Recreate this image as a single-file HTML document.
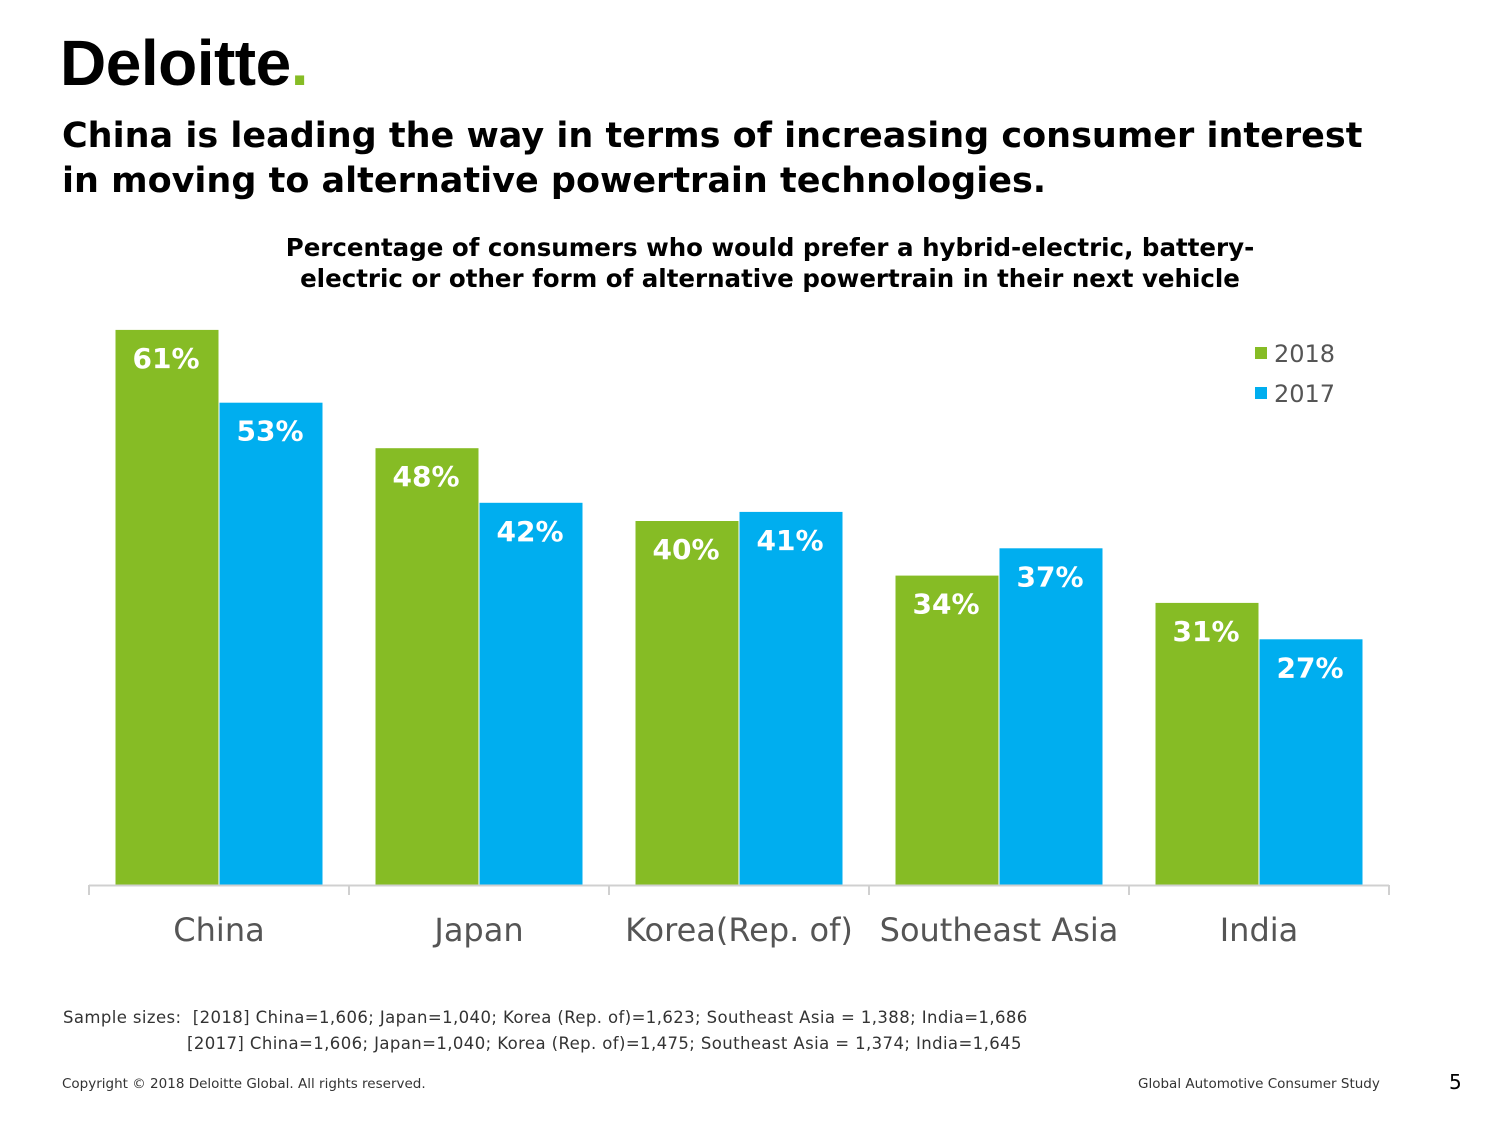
<!DOCTYPE html>
<html><head><meta charset="utf-8">
<style>
body{margin:0;background:#fff;font-family:"DejaVu Sans","Liberation Sans",sans-serif;}
#page{position:relative;width:1500px;height:1125px;overflow:hidden;}
.abs{position:absolute;white-space:nowrap;}
</style></head>
<body>
<div id="page">
<div class="abs" style="left:60px;top:26px;font-family:'Liberation Sans',sans-serif;font-weight:bold;font-size:64px;letter-spacing:-0.5px;color:#000;">Deloitte<span style="color:#86bc25">.</span></div>
<div class="abs" style="left:62px;top:114px;font-weight:bold;font-size:35px;line-height:45px;color:#000;">China is leading the way in terms of increasing consumer interest<br>in moving to alternative powertrain technologies.</div>
<div class="abs" style="left:270px;width:1000px;top:232px;text-align:center;font-weight:bold;font-size:24.5px;line-height:31px;color:#000;white-space:normal;">Percentage of consumers who would prefer a hybrid-electric, battery-<br>electric or other form of alternative powertrain in their next vehicle</div>
<svg id="chart" class="abs" style="left:0;top:0" width="1500" height="1000"></svg>
<div class="abs" style="left:63px;top:1005px;font-size:16.5px;letter-spacing:0.4px;line-height:26px;color:#333;">Sample sizes:&nbsp; [2018] China=1,606; Japan=1,040; Korea (Rep. of)=1,623; Southeast Asia = 1,388; India=1,686<br><span style="padding-left:124px">[2017] China=1,606; Japan=1,040; Korea (Rep. of)=1,475; Southeast Asia = 1,374; India=1,645</span></div>
<div class="abs" style="left:62px;top:1076px;font-size:13.5px;color:#333;">Copyright © 2018 Deloitte Global. All rights reserved.</div>
<div class="abs" style="left:1138px;top:1076px;font-size:13.5px;color:#333;">Global Automotive Consumer Study</div>
<div class="abs" style="left:1449px;top:1070px;font-size:20px;color:#000;">5</div>
</div>
<script>
const categories=["China","Japan","Korea(Rep. of)","Southeast Asia","India"];
const series2018=[61,48,40,34,31];
const series2017=[53,42,41,37,27];
const seriesNames=["2018","2017"];
const colors=["#86bc25","#00aeef"];
const svg=document.getElementById('chart');
const NS="http://www.w3.org/2000/svg";
const x0=89,groupW=260,base=885,pxPer=9.1,barW=103;
function y(v){return base-v*pxPer;}
function cx(i){return x0+groupW*(i+0.5);}
function mk(t,a){const e=document.createElementNS(NS,t);for(const k in a)e.setAttribute(k,a[k]);svg.appendChild(e);return e;}
[series2018,series2017].forEach((s,si)=>{
 s.forEach((v,i)=>{
  const bx=si===0?cx(i)-barW-0.5:cx(i)+0.5;
  const r=mk('rect',{x:bx,y:y(v),width:barW,height:v*pxPer,fill:colors[si]});
  
  
  const t=mk('text',{x:bx+barW/2-1,y:y(v)+38,'text-anchor':'middle',fill:'#fff','font-size':28,'font-weight':'bold','font-family':'DejaVu Sans, sans-serif'});
  t.textContent=v+'%';
  
  
 });
});
const ax=mk('line',{x1:x0,y1:base+0.5,x2:x0+groupW*5,y2:base+0.5,stroke:'#d0d0d0','stroke-width':2});


for(let i=0;i<=5;i++){
 const tk=mk('line',{x1:x0+groupW*i,y1:base,x2:x0+groupW*i,y2:base+10,stroke:'#d0d0d0','stroke-width':2});
 
 
}
categories.forEach((c,i)=>{
 const t=mk('text',{x:cx(i),y:941,'text-anchor':'middle',fill:'#555','font-size':32,'font-family':'DejaVu Sans, sans-serif'});
 t.textContent=c;
 
 
});
seriesNames.forEach((n,si)=>{
 const ly=353+si*40;
 const r=mk('rect',{x:1255,y:ly-6,width:12,height:12,fill:colors[si]});
 
 
 const t=mk('text',{x:1274,y:ly+9,fill:'#555','font-size':24,'font-family':'DejaVu Sans, sans-serif'});
 t.textContent=n;
 
 
});
</script>
</body></html>
